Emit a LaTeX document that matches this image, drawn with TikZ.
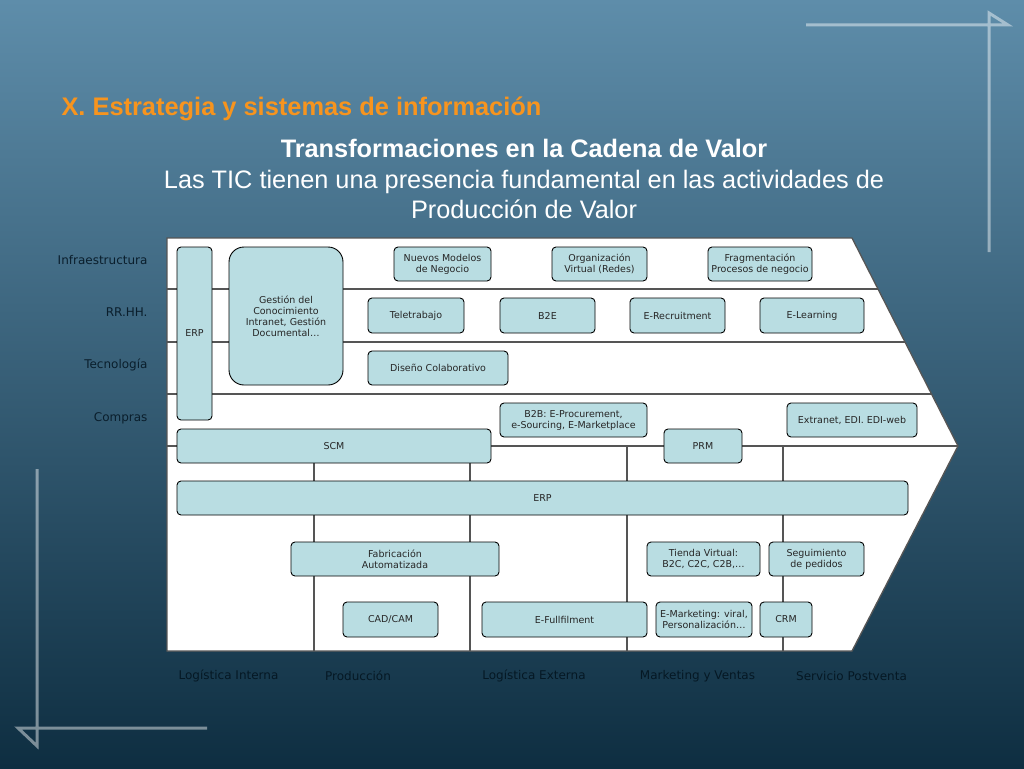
\documentclass[tikz,border=0pt]{standalone}
\usepackage{fontspec}
\setmainfont{Liberation Sans}
\newfontfamily\verdana{DejaVu Sans}
\definecolor{fondoTop}{RGB}{94,141,170}
\definecolor{fondoMid}{RGB}{46,89,115}
\definecolor{fondoBot}{RGB}{14,46,65}
\definecolor{cajaFill}{RGB}{185,221,226}
\definecolor{tituloNaranja}{RGB}{247,148,30}
\definecolor{rotulo}{RGB}{10,30,44}
\definecolor{rotuloBajo}{RGB}{5,24,36}
\definecolor{linea}{RGB}{85,85,85}

\begin{document}
\begin{tikzpicture}
    [
        x = 1pt, y = -1pt,
        caja/.style = {draw, line width = 0.9pt, fill = cajaFill, rounded corners = 4pt,
            align = center, inner sep = 0pt, text = black!85,
            font = \verdana\fontsize{9.5}{11}\selectfont},
        fila/.style = {text = rotulo, anchor = east, font = \verdana\fontsize{12}{13}\selectfont},
        eslabon/.style = {text = rotuloBajo, font = \verdana\fontsize{12}{13}\selectfont},
        adorno/.style = {white, opacity = 0.45, line width = 3pt},
        separa/.style = {linea, line width = 1.1pt}]

    \useasboundingbox (0, 0) rectangle (1024, 768);
    \shade [top color = fondoTop, middle color = fondoMid, bottom color = fondoBot] (0, 0) rectangle (1024, 768);

    % adornos de las esquinas
    \draw [adorno] (806, 25) -- (1008, 25) -- (989, 13) -- (989, 252);
    \draw [adorno] (207, 728) -- (18, 728) -- (37, 746) -- (37, 469);

    % titulos
    \node [anchor = base west, text = tituloNaranja, font = \bfseries\fontsize{25.4}{30}\selectfont] (titulo)
        at (58, 115) {X. Estrategia y sistemas de información};
    \node [align = center, text = white, font = \fontsize{25.3}{30.5}\selectfont] (subtitulo)
        at (524, 179) {\textbf{Transformaciones en la Cadena de Valor}\\
        Las TIC tienen una presencia fundamental en las actividades de\\Producción de Valor};

    % cadena de valor
    \coordinate (cTL) at (167, 238);
    \coordinate (cTR) at (852, 238);
    \coordinate (cPt) at (958, 446);
    \coordinate (cBR) at (852, 651);
    \coordinate (cBL) at (167, 651);
    \fill [white] (cTL) -- (cTR) -- (cPt) -- (cBR) -- (cBL) -- cycle;
    \begin{scope}
        \clip (cTL) -- (cTR) -- (cPt) -- (cBR) -- (cBL) -- cycle;
        \foreach \yy in {289, 342, 394, 446}
            \draw [separa] (167, \yy) -- (960, \yy);
        \foreach \xx in {314, 470, 627, 783}
            \draw [separa] (\xx, 446) -- (\xx, 651);
    \end{scope}
    \draw [linea, line width = 1.3pt] (cTL) -- (cTR) -- (cPt) -- (cBR) -- (cBL) -- cycle;

    % actividades de apoyo
    \node [caja, minimum width = 35pt, minimum height = 173pt] (erpV) at (194.5, 333.5) {ERP};
    \node [caja, rounded corners = 15pt, minimum width = 114pt, minimum height = 138pt] (gestion)
        at (286, 316) {Gestión del\\Conocimiento\\Intranet, Gestión\\Documental…};
    \node [caja, minimum width = 97pt, minimum height = 34pt] (nuevos) at (442.5, 264) {Nuevos Modelos\\de Negocio};
    \node [caja, minimum width = 95pt, minimum height = 34pt] (organiza) at (599.5, 264) {Organización\\Virtual (Redes)};
    \node [caja, minimum width = 104pt, minimum height = 34pt] (fragmenta) at (760, 264) {Fragmentación\\Procesos de negocio};
    \node [caja, minimum width = 96pt, minimum height = 35pt] (teletrabajo) at (416, 315.5) {Teletrabajo};
    \node [caja, minimum width = 95pt, minimum height = 35pt] (btoe) at (547.5, 315.5) {B2E};
    \node [caja, minimum width = 95pt, minimum height = 35pt] (erecruit) at (677.5, 315.5) {E-Recruitment};
    \node [caja, minimum width = 104pt, minimum height = 35pt] (elearning) at (812, 315.5) {E-Learning};
    \node [caja, minimum width = 140pt, minimum height = 34pt] (diseno) at (438, 368) {Diseño Colaborativo};
    \node [caja, minimum width = 147pt, minimum height = 34pt] (btob) at (573.5, 420) {B2B: E-Procurement,\\e-Sourcing, E-Marketplace};
    \node [caja, minimum width = 130pt, minimum height = 34pt] (extranet) at (852, 420) {Extranet, EDI. EDI-web};

    % actividades primarias
    \node [caja, minimum width = 314pt, minimum height = 34pt] (scm) at (334, 446) {SCM};
    \node [caja, minimum width = 78pt, minimum height = 34pt] (prm) at (703, 446) {PRM};
    \node [caja, minimum width = 731pt, minimum height = 34pt] (erpH) at (542.5, 498) {ERP};
    \node [caja, minimum width = 208pt, minimum height = 34pt] (fabrica) at (395, 559) {Fabricación\\Automatizada};
    \node [caja, minimum width = 113pt, minimum height = 34pt] (tienda) at (703.5, 559) {Tienda Virtual:\\B2C, C2C, C2B,…};
    \node [caja, minimum width = 95pt, minimum height = 34pt] (seguimiento) at (816.5, 559) {Seguimiento\\de pedidos};
    \node [caja, minimum width = 95pt, minimum height = 35pt] (cadcam) at (390.5, 619.5) {CAD/CAM};
    \node [caja, minimum width = 165pt, minimum height = 35pt] (efull) at (564.5, 619.5) {E-Fullfilment};
    \node [caja, minimum width = 96pt, minimum height = 35pt] (emarketing) at (704, 619.5) {E-Marketing: viral,\\Personalización…};
    \node [caja, minimum width = 52pt, minimum height = 35pt] (crm) at (786, 619.5) {CRM};

    % rotulos de filas y columnas
    \node [fila] (infra) at (151, 260) {Infraestructura};
    \node [fila] (rrhh) at (151, 312) {RR.HH.};
    \node [fila] (tecno) at (151, 365) {Tecnología};
    \node [fila] (compras) at (151, 418) {Compras};
    \node [eslabon] (logIn) at (228.5, 676) {Logística Interna};
    \node [eslabon] (produc) at (358, 676) {Producción};
    \node [eslabon] (logEx) at (534, 676) {Logística Externa};
    \node [eslabon] (mkt) at (697.5, 676) {Marketing y Ventas};
    \node [eslabon] (postventa) at (851.5, 676) {Servicio Postventa};

\end{tikzpicture}
\end{document}
